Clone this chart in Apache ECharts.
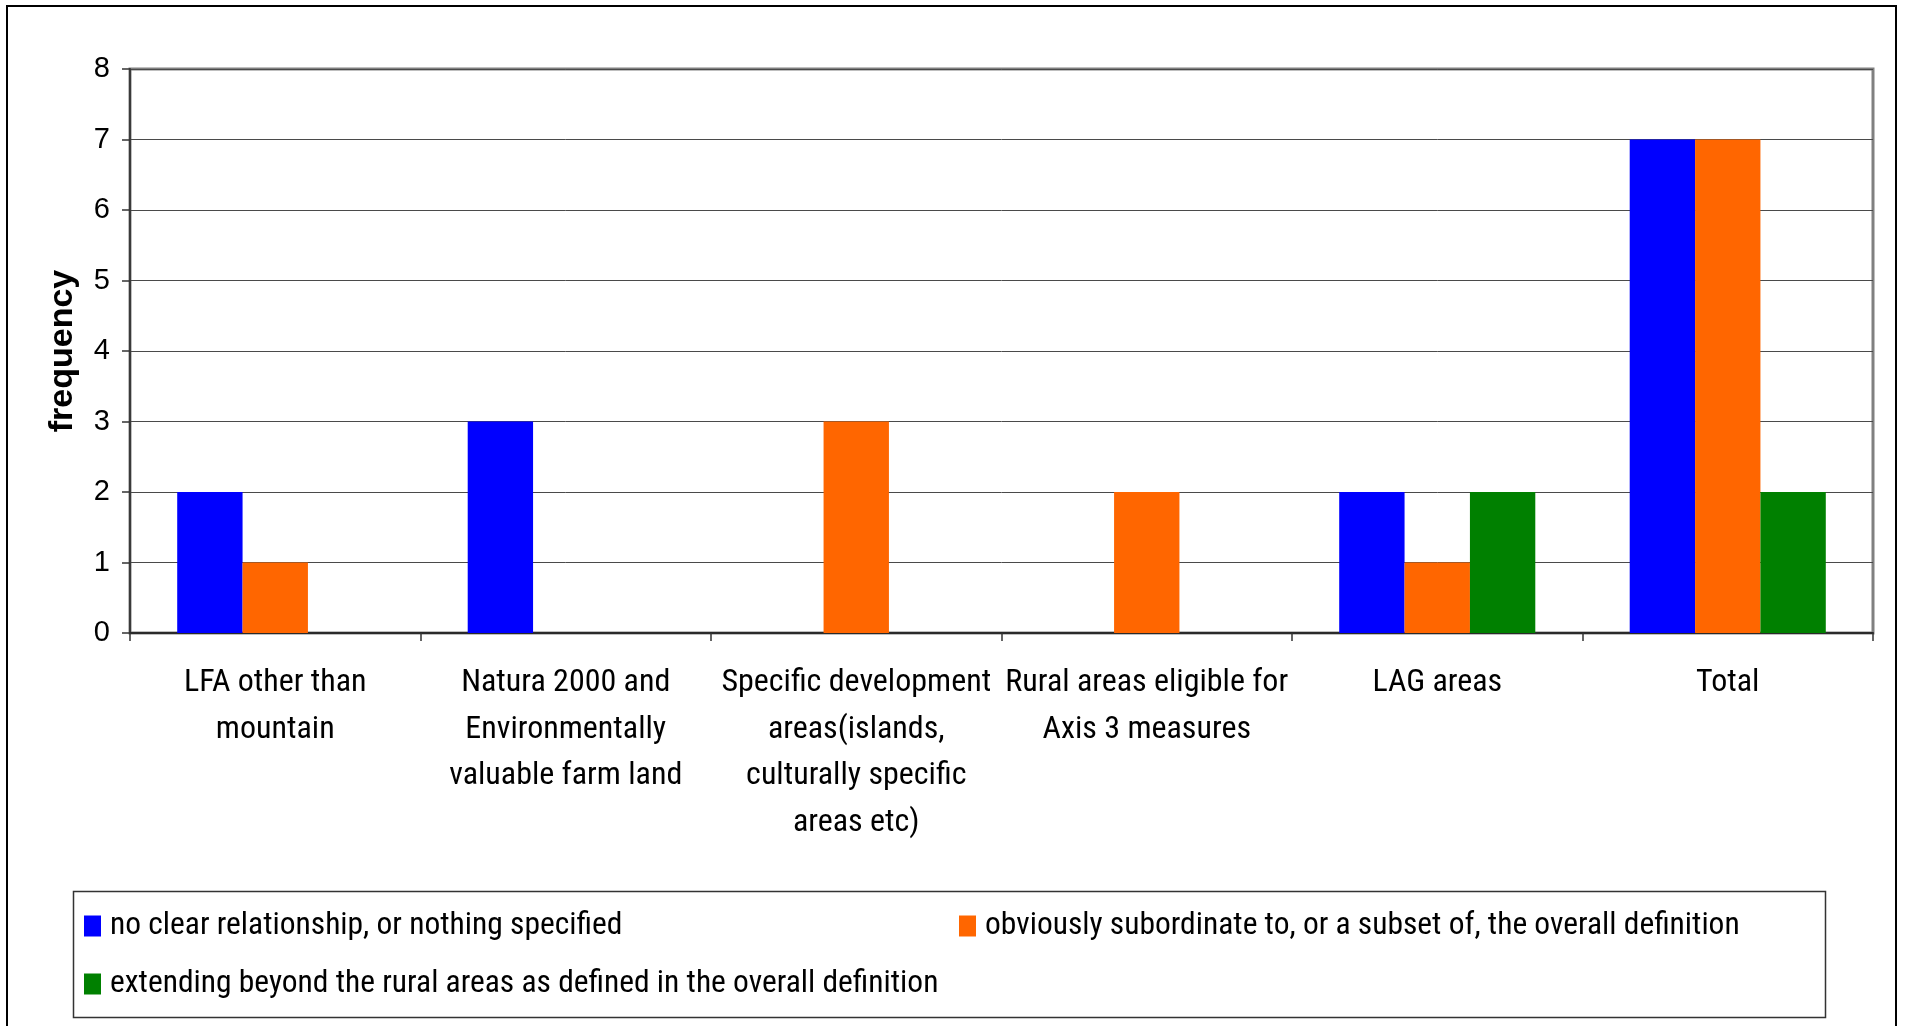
<!DOCTYPE html>
<html>
<head>
<meta charset="utf-8">
<script src="https://cdn.jsdelivr.net/npm/echarts@6/dist/echarts.min.js"></script>
<style>
html,body{margin:0;padding:0;background:#fff;}
#chart{width:1905px;height:1026px;}
</style>
</head>
<body>
<div id="chart"></div>
<script>
const categories = [
  "LFA other than\nmountain",
  "Natura 2000 and\nEnvironmentally\nvaluable farm land",
  "Specific development\nareas(islands,\nculturally specific\nareas etc)",
  "Rural areas eligible for\nAxis 3 measures",
  "LAG areas",
  "Total"
];
const seriesNames = [
  "no clear relationship, or nothing specified",
  "obviously subordinate to, or a subset of, the overall definition",
  "extending beyond the rural areas as defined in the overall definition"
];
const noClear = [2, 3, 0, 0, 2, 7];
const subordinate = [1, 0, 3, 2, 1, 7];
const extending = [0, 0, 0, 0, 2, 2];
const seriesColors = ["#0000FF", "#FF6600", "#008000"];
const yTicks = { min: 0, max: 8, interval: 1 };

const NARROW = '"Roboto Condensed", "DejaVu Sans Condensed", sans-serif';
const SANS = '"Liberation Sans", Arial, sans-serif';

const chart = echarts.init(document.getElementById('chart'), null, {renderer: 'canvas'});

function legendFor(name, left, top) {
  return {
    show: true,
    data: [{name: name, icon: 'rect'}],
    left: left,
    top: top,
    itemWidth: 17,
    itemHeight: 21,
    padding: 0,
    selectedMode: false,
    textStyle: {fontFamily: NARROW, fontSize: 31.5, color: '#000', padding: [0, 0, 0, 4]}
  };
}

const seriesData = [noClear, subordinate, extending];
const option = {
  animation: false,
  backgroundColor: '#fff',
  grid: {
    left: 130, right: 32, top: 69, bottom: 393,
    show: true, borderColor: '#808080', borderWidth: 3, backgroundColor: 'transparent',
    containLabel: false
  },
  legend: [
    legendFor(seriesNames[0], 84, 910),
    legendFor(seriesNames[1], 959, 910),
    legendFor(seriesNames[2], 84, 968)
  ],
  xAxis: {
    type: 'category',
    data: categories,
    axisLine: {lineStyle: {color: '#2a2a2a', width: 2}},
    axisTick: {show: true, length: 8, lineStyle: {color: '#333', width: 1.5}},
    axisLabel: {
      interval: 0, color: '#000', fontFamily: NARROW, fontSize: 32,
      lineHeight: 46.5, margin: 27
    },
    splitLine: {show: false}
  },
  yAxis: {
    type: 'value',
    min: yTicks.min, max: yTicks.max, interval: yTicks.interval,
    name: 'frequency',
    nameLocation: 'middle',
    nameGap: 50,
    nameRotate: 90,
    nameTextStyle: {fontFamily: SANS, fontWeight: 'bold', fontSize: 34, color: '#000'},
    axisLine: {show: true, lineStyle: {color: '#3a3a3a', width: 2}},
    axisTick: {show: true, length: 8, lineStyle: {color: '#333', width: 1.5}},
    axisLabel: {color: '#000', fontFamily: SANS, fontSize: 29, margin: 20},
    splitLine: {show: true, lineStyle: {color: '#4a4a4a', width: 1}}
  },
  series: seriesData.map((d, i) => ({
    name: seriesNames[i],
    type: 'bar',
    data: d,
    barGap: '0%',
    barCategoryGap: '32.5%',
    itemStyle: {color: seriesColors[i]},
    emphasis: {disabled: true}
  })),
  graphic: [
    {type: 'rect', z: 100, silent: true,
     shape: {x: 7, y: 6, width: 1889, height: 1040},
     style: {fill: 'none', stroke: '#000', lineWidth: 2}},
    {type: 'rect', z: 100, silent: true,
     shape: {x: 73.5, y: 891.5, width: 1752, height: 126},
     style: {fill: 'none', stroke: '#333', lineWidth: 1.5}}
  ]
};
chart.setOption(option);
</script>
</body>
</html>
